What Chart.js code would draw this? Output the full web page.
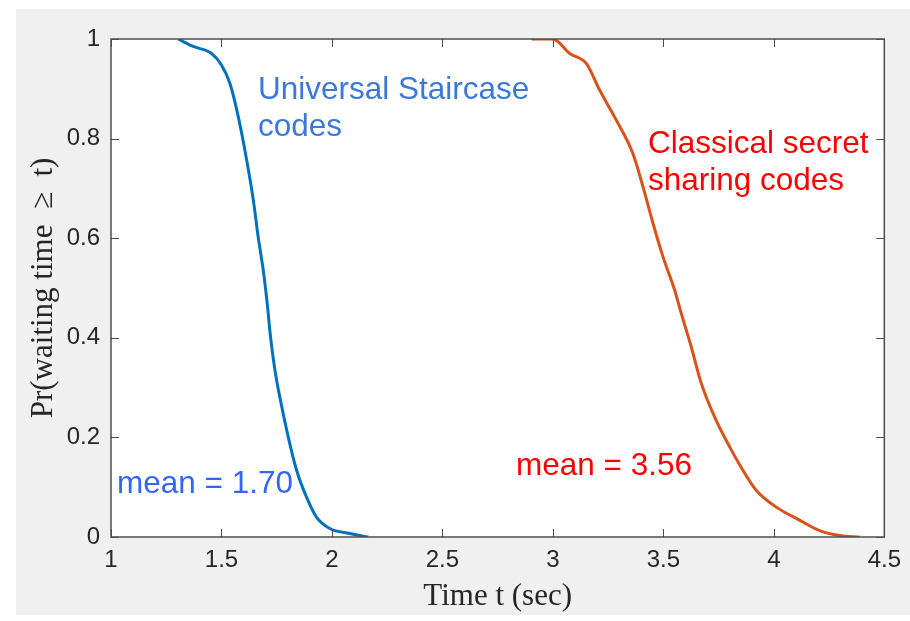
<!DOCTYPE html>
<html>
<head>
<meta charset="utf-8">
<script src="https://cdn.jsdelivr.net/npm/chart.js@4"></script>
<style>
  body { margin: 0; background: #ffffff; }
  canvas { display: block; }
</style>
</head>
<body>
<canvas id="waitChart" width="910" height="621"></canvas>
<script>
// values
const xTickLabels = ['1', '1.5', '2', '2.5', '3', '3.5', '4', '4.5'];
const yTickLabels = ['0', '0.2', '0.4', '0.6', '0.8', '1'];

const staircaseT = [1.304, 1.372, 1.455, 1.50, 1.538, 1.576, 1.614, 1.644, 1.666, 1.689, 1.707, 1.722, 1.742, 1.764, 1.802, 1.840, 1.885, 1.930, 1.990, 2.081, 2.164];
const staircaseP = [1.0, 0.985, 0.971, 0.948, 0.911, 0.844, 0.757, 0.677, 0.603, 0.536, 0.469, 0.402, 0.335, 0.281, 0.201, 0.134, 0.080, 0.040, 0.017, 0.007, 0.0];

const classicalT = [2.903, 3.0, 3.076, 3.151, 3.212, 3.287, 3.362, 3.408, 3.453, 3.498, 3.551, 3.581, 3.626, 3.672, 3.739, 3.800, 3.860, 3.920, 4.011, 4.116, 4.207, 4.297, 4.388];
const classicalP = [1.0, 1.0, 0.971, 0.951, 0.897, 0.837, 0.770, 0.703, 0.630, 0.563, 0.496, 0.449, 0.382, 0.308, 0.234, 0.181, 0.134, 0.094, 0.060, 0.034, 0.013, 0.003, 0.0];

const notes = [
  { lines: ['Universal Staircase', 'codes'], x: 258, y: 99, color: '#3c78d8' },
  { lines: ['Classical secret', 'sharing codes'], x: 648, y: 153, color: '#ff0000' },
  { lines: ['mean = 1.70'], x: 117, y: 493, color: '#3366f5' },
  { lines: ['mean = 3.56'], x: 516, y: 475, color: '#ff0000' }
];

const toPoints = (xs, ys) => xs.map((x, i) => ({ x: x, y: ys[i] }));

const matlabFrame = {
  id: 'matlabFrame',
  beforeDraw(chart) {
    const c = chart.ctx;
    const a = chart.chartArea;
    c.save();
    c.fillStyle = '#f0f0f0';
    c.fillRect(16, 9, 894, 606);
    c.fillStyle = '#ffffff';
    c.fillRect(a.left, a.top, a.right - a.left, a.bottom - a.top);
    c.restore();
  },
  afterDraw(chart) {
    const c = chart.ctx;
    const a = chart.chartArea;
    const xs = chart.scales.x;
    const ys = chart.scales.y;
    const tl = 8;
    c.save();
    c.strokeStyle = '#4d4d4d';
    c.lineWidth = 1.5;
    c.strokeRect(a.left, a.top, a.right - a.left, a.bottom - a.top);
    c.beginPath();
    xs.ticks.forEach(t => {
      const px = Math.round(xs.getPixelForValue(t.value)) + 0.5;
      c.moveTo(px, a.bottom); c.lineTo(px, a.bottom - tl);
      c.moveTo(px, a.top); c.lineTo(px, a.top + tl);
    });
    ys.ticks.forEach(t => {
      const py = Math.round(ys.getPixelForValue(t.value)) + 0.5;
      c.moveTo(a.left, py); c.lineTo(a.left + tl, py);
      c.moveTo(a.right, py); c.lineTo(a.right - tl, py);
    });
    c.lineWidth = 1;
    c.stroke();

    c.font = '31.5px "Liberation Sans", Arial, sans-serif';
    c.textBaseline = 'alphabetic';
    c.textAlign = 'left';
    notes.forEach(n => {
      c.fillStyle = n.color;
      n.lines.forEach((s, i) => c.fillText(s, n.x, n.y + i * 36.5));
    });
    c.restore();
  }
};

new Chart(document.getElementById('waitChart'), {
  type: 'line',
  data: {
    datasets: [{
      label: 'Universal Staircase codes',
      data: toPoints(staircaseT, staircaseP),
      borderColor: '#0072bd',
      borderWidth: 3,
      pointRadius: 0,
      cubicInterpolationMode: 'monotone'
    }, {
      label: 'Classical secret sharing codes',
      data: toPoints(classicalT, classicalP),
      borderColor: '#d95319',
      borderWidth: 3,
      pointRadius: 0,
      cubicInterpolationMode: 'monotone'
    }]
  },
  options: {
    responsive: false,
    animation: false,
    layout: { padding: { top: 39, right: 25, left: 0, bottom: 0 } },
    plugins: { legend: { display: false }, tooltip: { enabled: false } },
    scales: {
      x: {
        type: 'linear',
        min: 1,
        max: 4.5,
        afterFit(s) { s.height = 84; },
        grid: { display: false, drawTicks: false },
        border: { display: false },
        ticks: {
          stepSize: 0.5,
          padding: 9,
          color: '#262626',
          font: { family: '"Liberation Sans", Arial, sans-serif', size: 24 },
          callback: (v, i) => xTickLabels[i]
        },
        title: {
          display: true,
          text: 'Time t (sec)',
          color: '#262626',
          font: { family: '"Liberation Serif", "DejaVu Serif", serif', size: 31 },
          padding: { top: 0, bottom: 6 }
        }
      },
      y: {
        type: 'linear',
        min: 0,
        max: 1,
        afterFit(s) { s.width = 111; },
        grid: { display: false, drawTicks: false },
        border: { display: false },
        ticks: {
          stepSize: 0.2,
          padding: 11,
          color: '#262626',
          font: { family: '"Liberation Sans", Arial, sans-serif', size: 24 },
          callback: (v, i) => yTickLabels[i]
        },
        title: {
          display: true,
          text: 'Pr(waiting time  ≥  t)',
          color: '#262626',
          font: { family: '"Liberation Serif", "DejaVu Serif", serif', size: 31 },
          padding: { top: 25, bottom: 0 }
        }
      }
    }
  },
  plugins: [matlabFrame]
});
</script>
</body>
</html>
